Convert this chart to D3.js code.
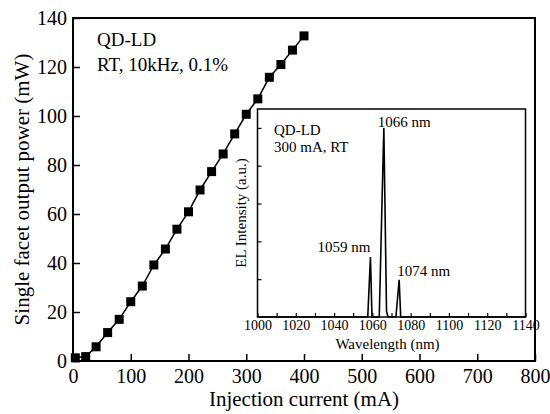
<!DOCTYPE html>
<html>
<head>
<meta charset="utf-8">
<script src="https://cdn.jsdelivr.net/npm/d3@7"></script>
<style>
  html, body { margin: 0; padding: 0; background: #fff; }
  svg { display: block; font-family: "Liberation Serif", "Times New Roman", serif; }
</style>
</head>
<body>
<svg id="chart" width="550" height="414"></svg>
<script>
// L-I characteristic: injection current (mA) vs single facet output power (mW)
const current = [4, 22, 40, 60, 80, 100, 120, 140, 160, 180, 200, 220, 240, 260, 280, 300, 320, 340, 360, 380, 400];
const power   = [1.3, 1.8, 5.8, 11.6, 17.0, 24.2, 30.6, 39.2, 45.7, 53.8, 60.9, 69.8, 77.3, 84.5, 92.7, 100.7, 107.0, 115.8, 121.0, 126.9, 132.7];

// Electroluminescence spectrum at 300 mA (arbitrary units)
const wavelength = [1000, 1057.6, 1059, 1059.8, 1063.6, 1066, 1067.4, 1068.2, 1072.3, 1074, 1074.8, 1140];
const intensity  = [0, 0, 0.317, 0, 0, 1.0, 0.03, 0, 0, 0.197, 0, 0];

// Peak annotations
const peakLabels = [1059, 1066, 1074];

// Axis ticks
const mainXTicks = [0, 100, 200, 300, 400, 500, 600, 700, 800];
const mainYTicks = [0, 20, 40, 60, 80, 100, 120, 140];
const insetXTicks = d3.range(1000, 1141, 10);
const insetYTicks = [0.2, 0.4, 0.6, 0.8, 1.0];

const svg = d3.select("#chart");

// ---- main plot ----
const M = { left: 73, right: 535, top: 18, bottom: 361 };
const x = d3.scaleLinear().domain([0, 800]).range([M.left, M.right]);
const y = d3.scaleLinear().domain([0, 140]).range([M.bottom, M.top]);

const gx = svg.append("g").attr("transform", `translate(0,${M.bottom})`)
  .call(d3.axisBottom(x).tickValues(mainXTicks).tickFormat(d3.format("d"))
    .tickSizeInner(-7).tickSizeOuter(0).tickPadding(8));
const gy = svg.append("g").attr("transform", `translate(${M.left},0)`)
  .call(d3.axisLeft(y).tickValues(mainYTicks).tickFormat(d3.format("d"))
    .tickSizeInner(-7).tickSizeOuter(0).tickPadding(6));
[gx, gy].forEach(g => {
  g.select(".domain").remove();
  g.selectAll("line").attr("stroke", "#000").attr("stroke-width", 1.5);
  g.selectAll("text").attr("fill", "#000").style("font-size", "20px")
    .style("font-family", "Liberation Serif, serif");
});

svg.append("rect")
  .attr("x", M.left).attr("y", M.top)
  .attr("width", M.right - M.left).attr("height", M.bottom - M.top)
  .attr("fill", "none").attr("stroke", "#000").attr("stroke-width", 2);

const liData = current.map((c, i) => [c, power[i]]);
svg.append("path").datum(liData)
  .attr("fill", "none").attr("stroke", "#000").attr("stroke-width", 1.5)
  .attr("d", d3.line().x(d => x(d[0])).y(d => y(d[1])));
const ms = 9;
svg.append("g").selectAll("rect").data(liData).join("rect")
  .attr("x", d => x(d[0]) - ms / 2).attr("y", d => y(d[1]) - ms / 2)
  .attr("width", ms).attr("height", ms).attr("fill", "#000");

svg.append("text").attr("x", 97).attr("y", 46).style("font-size", "19px").text("QD-LD");
svg.append("text").attr("x", 97).attr("y", 71).style("font-size", "19px").text("RT, 10kHz, 0.1%");

svg.append("text")
  .attr("x", (M.left + M.right) / 2).attr("y", 406)
  .attr("text-anchor", "middle").style("font-size", "21px")
  .text("Injection current (mA)");
svg.append("text")
  .attr("transform", `translate(29,${(M.top + M.bottom) / 2}) rotate(-90)`)
  .attr("text-anchor", "middle").style("font-size", "21px")
  .text("Single facet output power (mW)");

// ---- inset: EL spectrum ----
const I = { left: 257.5, right: 525.5, top: 109, bottom: 317 };
const xi = d3.scaleLinear().domain([1000, 1140]).range([I.left, I.right]);
const yi = d3.scaleLinear().domain([0, 1.1]).range([I.bottom, I.top]);

svg.append("rect")
  .attr("x", I.left).attr("y", I.top)
  .attr("width", I.right - I.left).attr("height", I.bottom - I.top)
  .attr("fill", "#fff");

const gxi = svg.append("g").attr("transform", `translate(0,${I.bottom})`)
  .call(d3.axisBottom(xi).tickValues(insetXTicks)
    .tickFormat(d => d % 20 === 0 ? d : "")
    .tickSizeInner(-4).tickSizeOuter(0).tickPadding(3));
const gyi = svg.append("g").attr("transform", `translate(${I.left},0)`)
  .call(d3.axisLeft(yi).tickValues(insetYTicks).tickFormat("")
    .tickSizeInner(-4).tickSizeOuter(0));
[gxi, gyi].forEach(g => {
  g.select(".domain").remove();
  g.selectAll("line").attr("stroke", "#000").attr("stroke-width", 1.2);
  g.selectAll("text").attr("fill", "#000").style("font-size", "14px")
    .style("font-family", "Liberation Serif, serif");
});

const spec = wavelength.map((w, i) => [w, intensity[i]]);
svg.append("path").datum(spec)
  .attr("fill", "none").attr("stroke", "#000").attr("stroke-width", 1.6)
  .attr("stroke-linejoin", "miter")
  .attr("d", d3.line().x(d => xi(d[0])).y(d => yi(d[1])));

svg.append("rect")
  .attr("x", I.left).attr("y", I.top)
  .attr("width", I.right - I.left).attr("height", I.bottom - I.top)
  .attr("fill", "none").attr("stroke", "#000").attr("stroke-width", 1.5);

svg.append("text").attr("x", 274).attr("y", 135).style("font-size", "15px").text("QD-LD");
svg.append("text").attr("x", 274).attr("y", 152).style("font-size", "15px").text("300 mA, RT");

const peakOf = w => intensity[wavelength.indexOf(w)];
const labelPos = {
  1059: { dx: 0, dy: -5, anchor: "end" },
  1066: { dx: -6, dy: -1, anchor: "start" },
  1074: { dx: -2, dy: -4, anchor: "start" }
};
svg.append("g").selectAll("text").data(peakLabels).join("text")
  .attr("x", d => xi(d) + labelPos[d].dx)
  .attr("y", d => yi(peakOf(d)) + labelPos[d].dy)
  .attr("text-anchor", d => labelPos[d].anchor)
  .style("font-size", "15px")
  .text(d => d + " nm");

svg.append("text")
  .attr("x", (I.left + I.right) / 2 - 4).attr("y", 349)
  .attr("text-anchor", "middle").style("font-size", "15px")
  .text("Wavelength (nm)");
svg.append("text")
  .attr("transform", `translate(246,${(I.top + I.bottom) / 2}) rotate(-90)`)
  .attr("text-anchor", "middle").style("font-size", "15px")
  .text("EL Intensity (a.u.)");
</script>
</body>
</html>
